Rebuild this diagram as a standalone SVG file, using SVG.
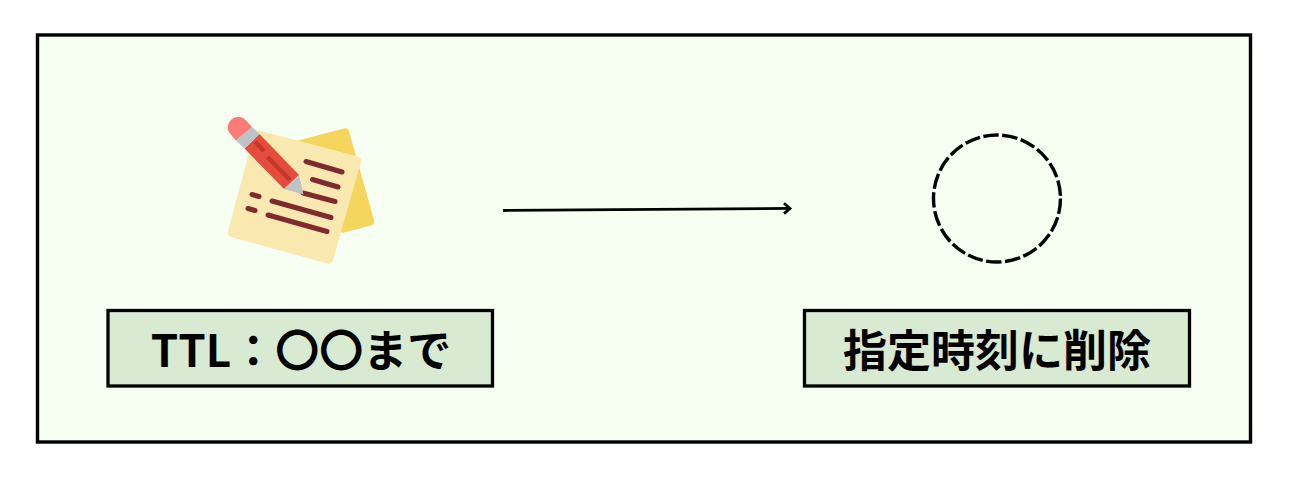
<svg xmlns="http://www.w3.org/2000/svg" width="1302" height="478" viewBox="0 0 1302 478">
<defs>
<marker id="arrow" markerUnits="userSpaceOnUse" markerWidth="14" markerHeight="16" refX="9" refY="7" orient="auto" overflow="visible"><path d="M3 1.800 L9 7 L3 12.200" fill="none" stroke="#000" stroke-width="2.800"/></marker>
</defs>
<style>
.label{fill:#d9ead3;stroke:#000;stroke-width:3.300}
.t{font-family:"Noto Sans CJK JP","Noto Sans",sans-serif;font-weight:700;font-size:44px;fill:#000;text-anchor:middle}
.ln{stroke:#7f2a2f;stroke-width:5;stroke-linecap:round;fill:none}
</style>
<rect id="frame" x="37.500" y="35" width="1213" height="407" fill="#f7fff2" stroke="#000" stroke-width="3.400"/>
<g id="note-icon">
<path d="M296 141 L344 128.500 Q348 127.500 349 131 L374 220 Q375 224 371 225.500 L342 233Z" fill="#f4d65e"/>
<path d="M259 130.500 L358 156.500 Q362 158 361 162 L333 260 Q331.500 265 327 263.500 L231 237 Q226.500 235.500 228 231 L254 134 Q255 129.500 259 130.500Z" fill="#f9e9b0"/>
<path class="ln" d="M306 161.500L342 172M312.500 179.500L338 187M303 193L335 201.500M272 201L331 217.500M268 215L327 231.500M252 194.500L259 196.500M248 208.500L255 210.500"/>
<path d="M244.500 148.500 L259.500 134 L299 175 L284 189Z" fill="#e64c3c"/>
<path d="M255 141.700 L264 151 M267.500 157 L290 180" stroke="#c0392b" stroke-width="4.500" fill="none"/>
<path d="M284 189 L299 175 L303.500 194.500Z" fill="#bdc3c7"/>
<path d="M236 140.500 L252 127 L259.500 134 L244.500 148.500Z" fill="#bdc3c7"/>
<path d="M236 140.500 L229.500 133 A10.500 10.500 0 0 1 244 118.500 L252 127Z" fill="#fb7b76"/>
</g>
<g id="ttl-node">
<rect class="label" x="108" y="310.500" width="384.500" height="75.500"/>
<text class="t" x="301" y="366.500">TTL：〇〇まで</text>
</g>
<g id="ring-node">
<circle cx="997" cy="198.500" r="63.500" fill="none" stroke="#000" stroke-width="3.400" stroke-dasharray="15.500 3.500"/>
</g>
<g id="delete-node">
<rect class="label" x="804.500" y="310.500" width="385" height="75.500"/>
<text class="t" x="997" y="366.500">指定時刻に削除</text>
</g>
<g id="connectors">
<path d="M503 210.500 L790 208.400" fill="none" stroke="#000" stroke-width="2.800" marker-end="url(#arrow)"/>
</g>
</svg>
